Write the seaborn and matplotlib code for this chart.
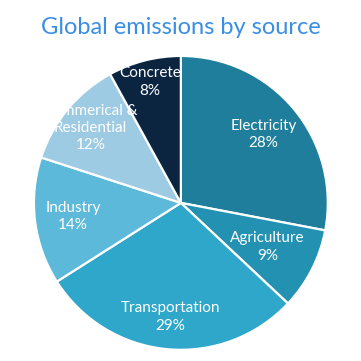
import numpy as np
import matplotlib
matplotlib.use("Agg")
import matplotlib.pyplot as plt
import seaborn as sns

sources = ["Electricity", "Agriculture", "Transportation", "Industry",
           "Commerical &\nResidential", "Concrete"]
shares = [28, 9, 29, 14, 12, 8]
colors = ["#1e7e9c", "#2391b2", "#2ea7ca", "#5db9da", "#9dcbe3", "#0b2541"]
label_dist = [0.73, 0.66, 0.78, 0.74, 0.80, 0.85]

sns.set_theme(style="white")
plt.rcParams['font.family'] = ['Lato', 'DejaVu Sans']

fig = plt.figure(figsize=(3.61, 3.61), dpi=100)
ax = fig.add_axes([0.094, 0.031, 0.814, 0.814])

wedges, _ = ax.pie(shares, colors=colors, startangle=90, counterclock=False,
                   wedgeprops=dict(edgecolor="white", linewidth=1.6))
ax.set_xlim(-1, 1)
ax.set_ylim(-1, 1)
ax.set_aspect("equal")

for w, name, val, d in zip(wedges, sources, shares, label_dist):
    ang = np.deg2rad((w.theta1 + w.theta2) / 2)
    ax.text(d * np.cos(ang), d * np.sin(ang), f"{name}\n{val}%",
            ha="center", va="center", color="white", fontsize=11,
            linespacing=1.3)

fig.text(0.5, 0.925, "Global emissions by source", ha="center", va="center",
         color="#3a8ee6", fontsize=17)

fig.savefig("out.png", dpi=100)
